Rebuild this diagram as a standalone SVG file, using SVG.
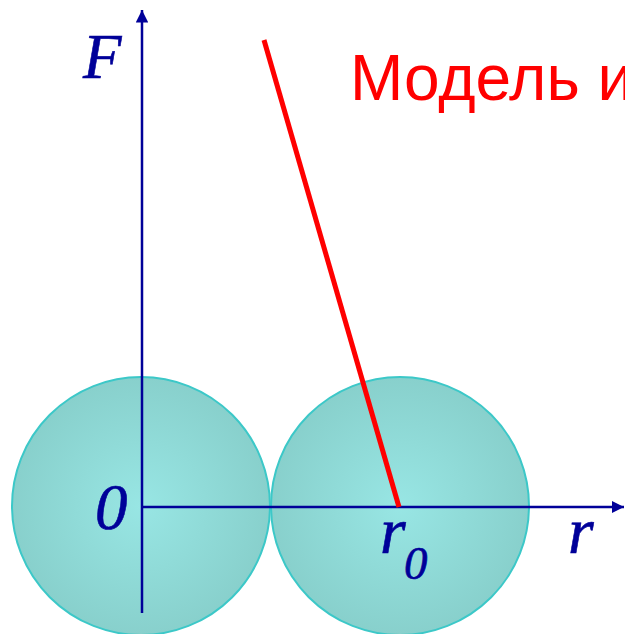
<svg xmlns="http://www.w3.org/2000/svg" width="625" height="634" viewBox="0 0 625 634">
<style>
.ball{stroke:#3cc8c8;stroke-width:2;fill:url(#g)}
.axis{stroke:#000099;stroke-width:2.5;fill:none}
.lbl{font-family:"Liberation Serif",serif;font-style:italic;fill:#000099;stroke:#000099;stroke-width:0.6}
</style>
<defs>
<radialGradient id="g" cx="0.5" cy="0.5" r="0.5">
<stop offset="0" stop-color="#98e6e4"/>
<stop offset="1" stop-color="#88d0cc"/>
</radialGradient>
<marker id="ah" viewBox="0 0 10 10" refX="10" refY="5" markerWidth="5" markerHeight="5" orient="auto" markerUnits="strokeWidth">
<path d="M0,0 L10,5 L0,10 Z" fill="#000099"/>
</marker>
</defs>
<g id="ball1"><circle class="ball" cx="141" cy="506" r="129"/></g>
<g id="ball2"><circle class="ball" cx="400" cy="506" r="129"/></g>
<g id="connectors">
<line class="axis" x1="142" y1="613" x2="142" y2="10" marker-end="url(#ah)"/>
<line class="axis" x1="142" y1="507" x2="624" y2="507" marker-end="url(#ah)"/>
<line x1="264" y1="40" x2="399" y2="507" stroke="#ff0000" stroke-width="5"/>
</g>
<g id="labels">
<text class="lbl" x="83" y="78" font-size="63">F</text>
<text class="lbl" x="95" y="529" font-size="65">0</text>
<text class="lbl" x="568" y="553" font-size="66">r</text>
<text class="lbl" x="380" y="553" font-size="66">r</text>
<text class="lbl" x="404" y="579" font-size="47">0</text>
<text x="350" y="100" font-family="Liberation Sans,Arial,sans-serif" font-size="64" fill="#ff0000">Модель и</text>
</g>
</svg>
